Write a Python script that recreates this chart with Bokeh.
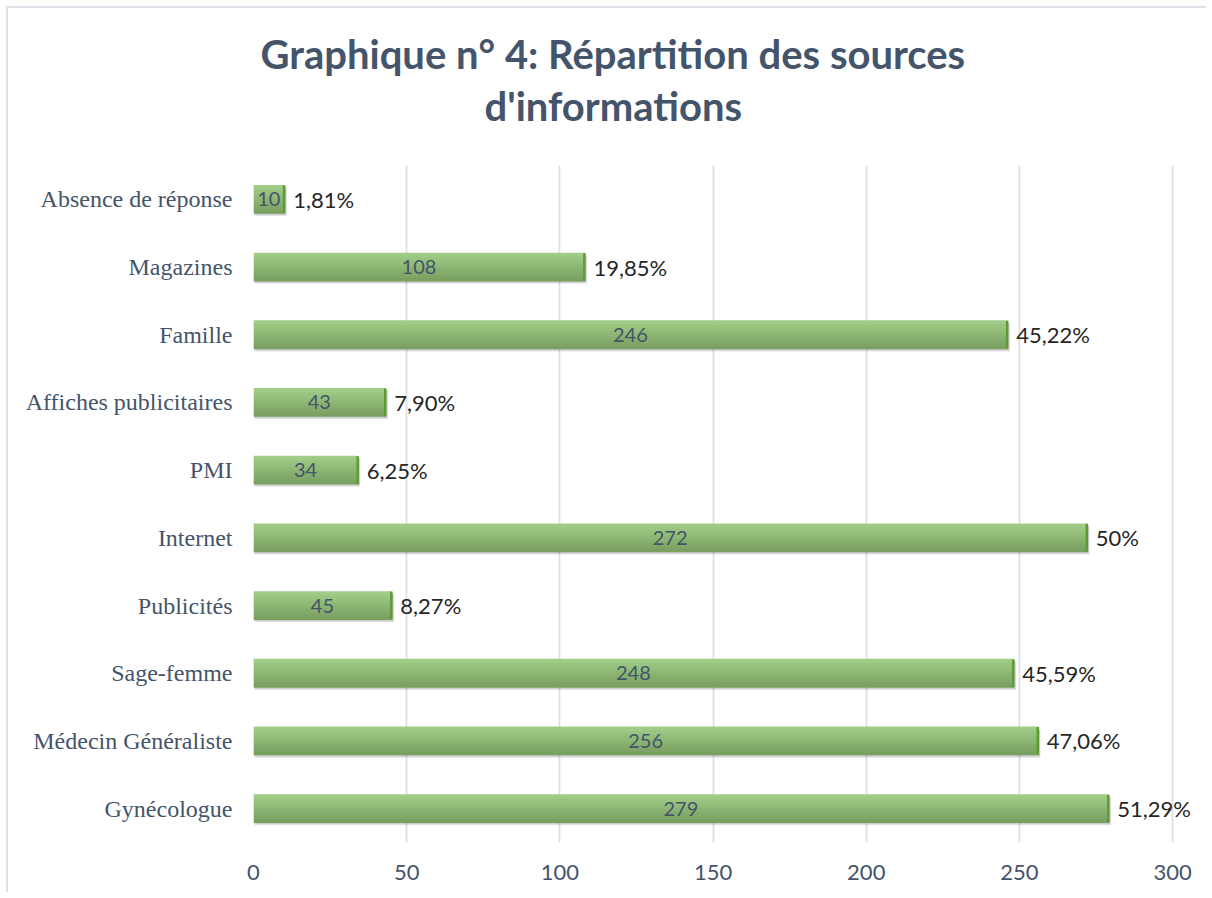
from bokeh.plotting import figure
from bokeh.models import ColumnDataSource, FactorRange, Title, LabelSet, FixedTicker
from bokeh.transform import dodge
from bokeh.embed import file_html
from bokeh.resources import INLINE
from bokeh.core.properties import value

# ---- data (top to bottom as in the chart) ----
categories = ["Absence de réponse", "Magazines", "Famille", "Affiches publicitaires", "PMI",
              "Internet", "Publicités", "Sage-femme", "Médecin Généraliste", "Gynécologue"]
counts = [10, 108, 246, 43, 34, 272, 45, 248, 256, 279]
percents = ["1,81%", "19,85%", "45,22%", "7,90%", "6,25%", "50%", "8,27%", "45,59%", "47,06%", "51,29%"]
x_ticks = [0, 50, 100, 150, 200, 250, 300]
title_lines = ["Graphique n° 4: Répartition des sources", "d'informations"]

src = ColumnDataSource(dict(
    cat=categories,
    count=counts,
    count_txt=[str(c) for c in counts],
    half=[c / 2 for c in counts],
    pct=percents,
    shadow=[c + 0.8 for c in counts],
))

W, H = 1200, 886
p = figure(width=W, height=H, output_backend="svg", toolbar_location=None,
           y_range=FactorRange(factors=list(reversed(categories)), range_padding=0),
           x_range=(0, 310.4),
           min_border_left=245, min_border_right=4, min_border_top=157, min_border_bottom=52)
p.y_range.factor_padding = 0
p.outline_line_color = None
p.background_fill_color = "white"
p.border_fill_color = "white"
p.styles = {"margin": "6px 0 0 6px",
            "border-left": "2px solid #DFE3E9", "border-top": "2px solid #DFE3E9"}

BAR_H = 0.414
# soft shadow
p.hbar(y=dodge("cat", -0.04, range=p.y_range), left=0.4, right="shadow", height=BAR_H,
       source=src, fill_color="#000000", fill_alpha=0.10, line_color=None)
p.hbar(y=dodge("cat", -0.025, range=p.y_range), left=0.2, right="shadow", height=BAR_H,
       source=src, fill_color="#000000", fill_alpha=0.10, line_color=None)

# gradient bar made of horizontal bands
n = 14
top = (161, 205, 136)
bot = (121, 160, 97)
h = BAR_H / n
for i in range(n):
    t = i / (n - 1)
    col = "#%02x%02x%02x" % tuple(int(round(a + (b - a) * t)) for a, b in zip(top, bot))
    off = BAR_H / 2 - h / 2 - i * h
    p.hbar(y=dodge("cat", off, range=p.y_range), left=0, right="count", height=h * 1.4,
           source=src, fill_color=col, line_color=None)

# dark green right edge
p.segment(x0="count", x1="count",
          y0=dodge("cat", -BAR_H / 2, range=p.y_range), y1=dodge("cat", BAR_H / 2, range=p.y_range),
          source=src, line_color="#5C9B30", line_width=2.5)

# labels
p.add_layout(LabelSet(x="half", y="cat", text="count_txt", source=src,
                      text_align="center", text_baseline="middle",
                      text_font=value("Lato"), text_font_size=value("20px"), text_color="#44546A"))
p.add_layout(LabelSet(x="count", y="cat", text="pct", source=src, x_offset=9,
                      text_align="left", text_baseline="middle",
                      text_font=value("Lato"), text_font_size=value("22px"), text_color="#262626"))

# axes & grid
p.xaxis.ticker = FixedTicker(ticks=x_ticks)
p.xaxis.axis_line_color = None
p.xaxis.major_tick_line_color = None
p.xaxis.minor_tick_line_color = None
p.xaxis.major_label_text_font = "Lato"
p.xaxis.major_label_text_font_size = "22px"
p.xaxis.major_label_text_color = "#44546A"
p.xaxis.major_label_standoff = 16

p.yaxis.axis_line_color = None
p.yaxis.major_tick_line_color = None
p.yaxis.minor_tick_line_color = None
p.yaxis.major_label_text_font = "Liberation Serif"
p.yaxis.major_label_text_font_size = "24px"
p.yaxis.major_label_text_color = "#44546A"
p.yaxis.major_label_standoff = 15

p.ygrid.grid_line_color = None
p.xgrid.grid_line_color = "#DCE0E6"
p.xgrid.grid_line_width = 1.8

# title (two lines, placed to be centred on the whole chart)
p.add_layout(Title(text=title_lines[1], align="left", text_font="Lato", text_font_size="40px",
                   text_font_style="bold", text_color="#44546A", offset=231, standoff=72), "above")
p.add_layout(Title(text=title_lines[0], align="left", text_font="Lato", text_font_size="40px",
                   text_font_style="bold", text_color="#44546A", offset=7, standoff=-68), "above")

open("out.html", "w").write(file_html(p, INLINE))
